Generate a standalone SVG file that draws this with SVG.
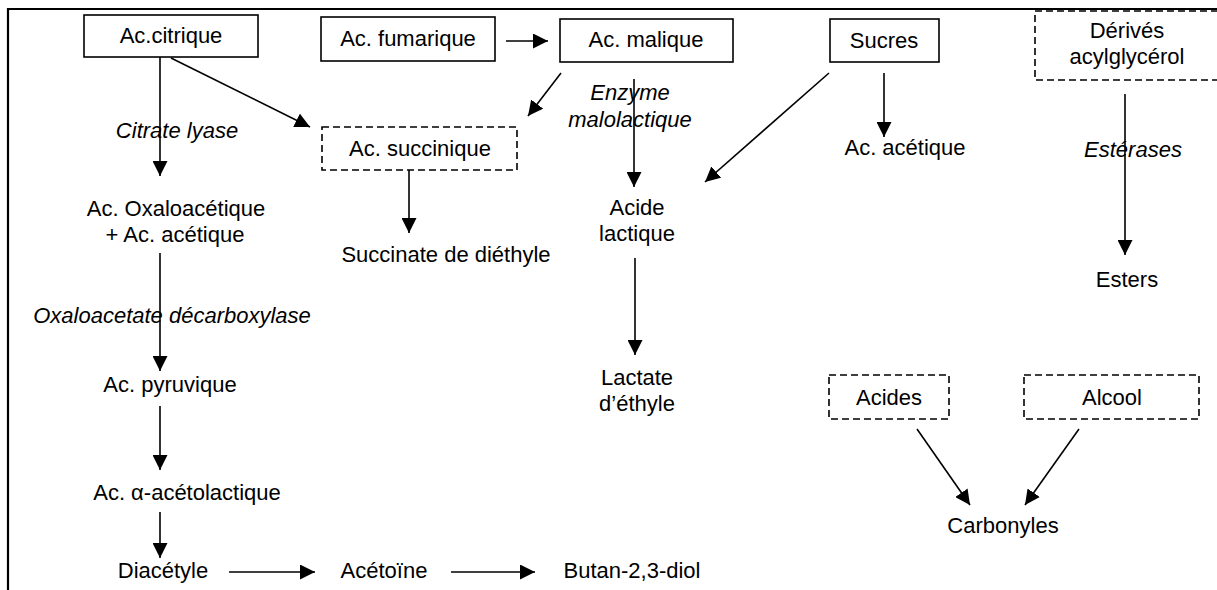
<svg xmlns="http://www.w3.org/2000/svg" width="1217" height="590" viewBox="0 0 1217 590">
<style>
text{font-family:"Liberation Sans",Arial,sans-serif;font-size:22px;fill:#000;text-anchor:middle}
.it{font-style:italic}
.box{fill:#fff;stroke:#000;stroke-width:1.6}
.dbox{fill:#fff;stroke:#000;stroke-width:1.6;stroke-dasharray:7 4}
.c{stroke:#000;stroke-width:1.6;fill:none;marker-end:url(#ah)}
.frame{stroke:#000;stroke-width:2.2;fill:none}
</style>
<defs>
<marker id="ah" markerUnits="userSpaceOnUse" markerWidth="15" markerHeight="15" refX="15" refY="7.5" orient="auto">
<path d="M0,0 L15,7.5 L0,15 z" fill="#000"/>
</marker>
</defs>
<rect width="1217" height="590" fill="#fff"/>
<g id="frame">
<path class="frame" d="M8,590 L8,9 L1217,9"/>
</g>
<g id="connectors">
<line class="c" x1="160" y1="57" x2="160" y2="176"/>
<line class="c" x1="171" y1="58" x2="310" y2="127"/>
<line class="c" x1="506" y1="41" x2="548" y2="41"/>
<line class="c" x1="561" y1="73" x2="528" y2="116"/>
<line class="c" x1="634" y1="79" x2="634" y2="187"/>
<line class="c" x1="884" y1="73" x2="884" y2="137"/>
<line class="c" x1="829" y1="73" x2="705" y2="182"/>
<line class="c" x1="1125" y1="94" x2="1125" y2="255"/>
<line class="c" x1="409" y1="159" x2="409" y2="233"/>
<line class="c" x1="160" y1="253" x2="160" y2="371"/>
<line class="c" x1="160" y1="406" x2="160" y2="470"/>
<line class="c" x1="160" y1="512" x2="160" y2="558"/>
<line class="c" x1="229" y1="572" x2="315" y2="572"/>
<line class="c" x1="451" y1="572" x2="535" y2="572"/>
<line class="c" x1="635" y1="258" x2="635" y2="355"/>
<line class="c" x1="917" y1="429" x2="970" y2="505"/>
<line class="c" x1="1079" y1="429" x2="1025" y2="505"/>
</g>
<g id="citrique"><rect class="box" x="84" y="15" width="174" height="42"/><text x="171" y="43">Ac.citrique</text></g>
<g id="fumarique"><rect class="box" x="321" y="17" width="174" height="44"/><text x="408" y="46">Ac. fumarique</text></g>
<g id="malique"><rect class="box" x="560" y="19" width="173" height="43"/><text x="646" y="47">Ac. malique</text></g>
<g id="sucres"><rect class="box" x="830" y="19" width="109" height="43"/><text x="884" y="48">Sucres</text></g>
<g id="derives"><rect class="dbox" x="1035" y="11" width="184" height="69"/><text x="1127" y="38">Dérivés</text><text x="1127" y="64">acylglycérol</text></g>
<g id="succinique"><rect class="dbox" x="322" y="127" width="195" height="43"/><text x="420" y="156">Ac. succinique</text></g>
<g id="acides"><rect class="dbox" x="829" y="375" width="120" height="44"/><text x="889" y="405">Acides</text></g>
<g id="alcool"><rect class="dbox" x="1024" y="375" width="175" height="44"/><text x="1112" y="405">Alcool</text></g>
<g id="oxalo"><text x="176" y="216">Ac. Oxaloacétique</text><text x="175" y="242">+ Ac. acétique</text></g>
<g id="pyruvique"><text x="170" y="392">Ac. pyruvique</text></g>
<g id="acetolactique"><text x="187" y="500">Ac. α-acétolactique</text></g>
<g id="diacetyle"><text x="163" y="578">Diacétyle</text></g>
<g id="acetoine"><text x="384" y="578">Acétoïne</text></g>
<g id="butanediol"><text x="632" y="578">Butan-2,3-diol</text></g>
<g id="succinate"><text x="446" y="262">Succinate de diéthyle</text></g>
<g id="lactique"><text x="637" y="215">Acide</text><text x="637" y="241">lactique</text></g>
<g id="lactate"><text x="637" y="385">Lactate</text><text x="637" y="411">d’éthyle</text></g>
<g id="acetique"><text x="905" y="155">Ac. acétique</text></g>
<g id="esters"><text x="1127" y="287">Esters</text></g>
<g id="carbonyles"><text x="1003" y="533">Carbonyles</text></g>
<g id="labels">
<text class="it" x="177" y="138">Citrate lyase</text>
<text class="it" x="172" y="323">Oxaloacetate décarboxylase</text>
<text class="it" x="630" y="100">Enzyme</text>
<text class="it" x="630" y="127">malolactique</text>
<text class="it" x="1133" y="157">Estérases</text>
</g>
</svg>
